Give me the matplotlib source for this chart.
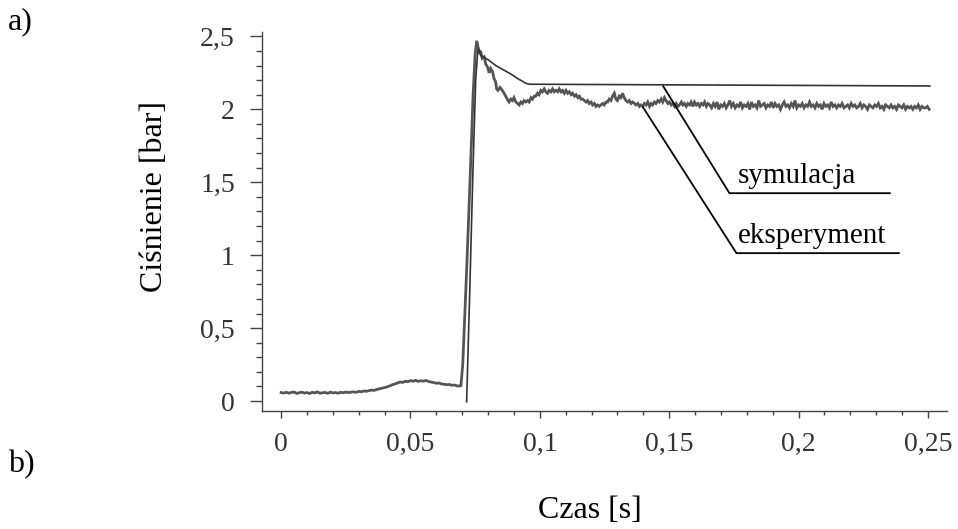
import numpy as np
import matplotlib
matplotlib.use("Agg")
import matplotlib.pyplot as plt
from matplotlib.ticker import MultipleLocator, FuncFormatter

plt.rcParams['font.family'] = ['Liberation Serif', 'DejaVu Serif']

# ---------------- data ----------------
# experiment: low (pre-shock) segment, sampled every 1 ms from 0 to 0.069 s
exp_low_t0 = 0.0
exp_low_dt = 0.001
exp_low_p = [
    0.058, 0.055, 0.060, 0.054, 0.059, 0.062, 0.053, 0.057, 0.061, 0.055,
    0.058, 0.052, 0.060, 0.056, 0.063, 0.054, 0.057, 0.059, 0.053, 0.061,
    0.056, 0.058, 0.054, 0.060, 0.057, 0.062, 0.058, 0.061, 0.063, 0.060,
    0.066, 0.064, 0.069, 0.067, 0.072, 0.075, 0.073, 0.080, 0.084, 0.088,
    0.093, 0.097, 0.104, 0.112, 0.118, 0.124, 0.131, 0.128, 0.136, 0.133,
    0.140, 0.136, 0.142, 0.135, 0.139, 0.137, 0.141, 0.134, 0.130, 0.127,
    0.122, 0.124, 0.117, 0.115, 0.112, 0.114, 0.108, 0.110, 0.104, 0.103,
]

# experiment: transient (read point by point)
exp_tr_t = [
    0.0695, 0.0702, 0.0716, 0.0730, 0.0742, 0.0750, 0.0756, 0.0762, 0.0767, 0.0771,
    0.0777, 0.0785, 0.0791, 0.0798, 0.0804, 0.0810, 0.0817, 0.0823, 0.0829, 0.0833,
    0.0838, 0.0846, 0.0855, 0.0862, 0.0868, 0.0874, 0.0881, 0.0888, 0.0894, 0.0900,
    0.0907, 0.0914, 0.0920, 0.0927, 0.0933, 0.0939, 0.0946, 0.0953, 0.0959, 0.0966,
    0.0972, 0.0978, 0.0984, 0.0991, 0.0997, 0.1004, 0.1010, 0.1017, 0.1023, 0.1030,
    0.1036, 0.1043, 0.1049, 0.1056, 0.1062, 0.1069, 0.1075, 0.1082, 0.1088, 0.1095,
    0.1101, 0.1108, 0.1114, 0.1121, 0.1127, 0.1134, 0.1140, 0.1147, 0.1153, 0.1159,
    0.1166, 0.1172, 0.1179, 0.1185, 0.1191, 0.1198, 0.1204, 0.1211, 0.1217, 0.1223,
    0.1230, 0.1236, 0.1243, 0.1249, 0.1256, 0.1262, 0.1268, 0.1275, 0.1281, 0.1288,
    0.1294, 0.1300, 0.1307, 0.1313, 0.1320, 0.1326, 0.1333, 0.1340, 0.1346, 0.1353,
    0.1359, 0.1366, 0.1372, 0.1379, 0.1385, 0.1391, 0.1398, 0.1404, 0.1411, 0.1417,
    0.1424, 0.1430, 0.1436, 0.1443, 0.1449, 0.1456, 0.1462, 0.1469, 0.1475, 0.1482,
    0.1488, 0.1495, 0.1501, 0.1508, 0.1514, 0.1521, 0.1527, 0.1534, 0.1540, 0.1547,
    0.1553, 0.1559, 0.1566, 0.1572, 0.1579, 0.1585, 0.1592, 0.1598, 0.1605, 0.1611,
    0.1618, 0.1624, 0.1631, 0.1637, 0.1644, 0.1650,
]
exp_tr_p = [
    0.106, 0.25, 0.85, 1.50, 2.10, 2.38, 2.47, 2.42, 2.38, 2.40,
    2.35, 2.36, 2.31, 2.29, 2.25, 2.28, 2.26, 2.21, 2.19, 2.14,
    2.13, 2.15, 2.13, 2.11, 2.09, 2.07, 2.05, 2.07, 2.06, 2.08,
    2.05, 2.04, 2.03, 2.05, 2.04, 2.06, 2.05, 2.06, 2.05, 2.08,
    2.07, 2.09, 2.09, 2.11, 2.10, 2.13, 2.12, 2.14, 2.12, 2.11,
    2.13, 2.12, 2.14, 2.12, 2.13, 2.12, 2.14, 2.12, 2.13, 2.11,
    2.13, 2.11, 2.12, 2.10, 2.11, 2.09, 2.10, 2.08, 2.09, 2.07,
    2.07, 2.06, 2.05, 2.06, 2.04, 2.05, 2.03, 2.04, 2.02, 2.03,
    2.02, 2.03, 2.04, 2.03, 2.05, 2.05, 2.07, 2.06, 2.09, 2.11,
    2.07, 2.06, 2.09, 2.08, 2.11, 2.08, 2.06, 2.05, 2.06, 2.04,
    2.05, 2.04, 2.03, 2.04, 2.02, 2.03, 2.02, 2.04, 2.03, 2.05,
    2.02, 2.04, 2.03, 2.05, 2.04, 2.06, 2.05, 2.07, 2.05, 2.08,
    2.06, 2.04, 2.05, 2.03, 2.04, 2.02, 2.04, 2.02, 2.03, 2.05,
    2.03, 2.04, 2.02, 2.04, 2.03, 2.05, 2.02, 2.05, 2.03, 2.04,
    2.02, 2.04, 2.03, 2.05, 2.02, 2.04,
]

# experiment: steady noisy tail, sampled uniformly from 0.1657 s to 0.2505 s
exp_tail_start = 0.1657
exp_tail_end = 0.2505
exp_tail_p = [
    2.03, 2.01, 2.04, 2.02, 2.05, 2.00, 2.03, 2.02, 2.04, 2.01,
    2.03, 2.06, 2.02, 2.04, 2.01, 2.03, 2.02, 2.05, 2.01, 2.03,
    2.02, 2.04, 2.00, 2.05, 2.02, 2.03, 2.01, 2.06, 2.02, 2.03,
    2.04, 2.01, 2.03, 2.02, 2.05, 2.01, 2.04, 2.02, 2.03, 2.00,
    2.03, 2.05, 2.02, 2.03, 2.01, 2.04, 2.02, 2.06, 2.01, 2.03,
    2.02, 2.04, 2.01, 2.03, 2.02, 2.05, 2.02, 2.03, 2.01, 2.04,
    2.02, 2.03, 2.00, 2.04, 2.02, 2.03, 2.01, 2.05, 2.02, 2.03,
    2.01, 2.03, 2.02, 2.04, 2.01, 2.02, 2.03, 2.01, 2.04, 2.02,
    2.03, 2.01, 2.02, 2.04, 2.01, 2.03, 2.02, 2.00, 2.03, 2.02,
    2.01, 2.03, 2.02, 2.04, 2.01, 2.02, 2.00, 2.03, 2.02, 2.01,
    2.03, 2.01, 2.02, 2.00, 2.03, 2.02, 2.01, 2.03, 2.00, 2.02,
    2.01, 2.02, 2.00, 2.02, 2.01, 2.03, 2.00, 2.02, 2.01, 2.01,
    2.02, 2.00,
]

# simulation
sim_t = [0.0717, 0.0729, 0.0741, 0.0752, 0.0760, 0.0766, 0.0771, 0.0800, 0.0830,
         0.0860, 0.0890, 0.0915, 0.0935, 0.0946, 0.0960, 0.2508]
sim_p = [-0.005, 0.75, 1.55, 2.20, 2.40, 2.41, 2.37, 2.34, 2.30,
         2.27, 2.24, 2.21, 2.19, 2.178, 2.172, 2.160]

x_ticks = [0, 0.05, 0.1, 0.15, 0.2, 0.25]
y_ticks = [0, 0.5, 1, 1.5, 2, 2.5]

label_sym = "symulacja"
label_exp = "eksperyment"

# ---------------- assemble ----------------
exp_low_t = exp_low_t0 + exp_low_dt * np.arange(len(exp_low_p))
exp_tail_t = np.linspace(exp_tail_start, exp_tail_end, len(exp_tail_p))
exp_t = np.concatenate([exp_low_t, exp_tr_t, exp_tail_t])
exp_p = np.concatenate([exp_low_p, exp_tr_p, exp_tail_p])

# ---------------- figure ----------------
fig = plt.figure(figsize=(9.58, 5.29), dpi=100)
ax = fig.add_axes([0.2735, 0.2231, 0.715, 0.7164])

ax.plot(exp_t, exp_p, color='#555555', lw=2.0, solid_joinstyle='miter')
ax.plot(sim_t, sim_p, color='#333333', lw=1.2)

ax.set_xlim(-0.0074, 0.2574)
ax.set_ylim(-0.068, 2.53)

for s in ['top', 'right']:
    ax.spines[s].set_visible(False)
for s in ['left', 'bottom']:
    ax.spines[s].set_color('#444444')
    ax.spines[s].set_linewidth(1.0)

ax.set_xticks(x_ticks)
ax.set_yticks(y_ticks)
ax.xaxis.set_minor_locator(MultipleLocator(0.01))
ax.yaxis.set_minor_locator(MultipleLocator(0.1))

def comma_fmt(v, pos):
    s = ('%g' % round(v, 4)).replace('.', ',')
    return s

ax.xaxis.set_major_formatter(FuncFormatter(comma_fmt))
ax.yaxis.set_major_formatter(FuncFormatter(comma_fmt))

ax.tick_params(axis='y', which='major', direction='out', length=8.5, width=1.0,
               color='#444444', labelsize=20, labelcolor='#333333', pad=11)
ax.tick_params(axis='y', which='minor', direction='out', length=4.3, width=1.0,
               color='#444444')
ax.tick_params(axis='x', which='major', direction='out', length=5, width=1.0,
               color='#444444', labelsize=20, labelcolor='#333333', pad=10)
ax.tick_params(axis='x', which='minor', direction='out', length=3, width=1.0,
               color='#444444')

# annotations (leader lines + underlined labels)
ax.plot([0.1477, 0.1733, 0.2353], [2.158, 1.425, 1.425], color='black', lw=1.3,
        clip_on=False)
ax.plot([0.1399, 0.1760, 0.2388], [2.014, 1.014, 1.014], color='black', lw=1.3,
        clip_on=False)
ax.text(0.1767, 1.455, label_sym, fontsize=21, color='black', ha='left', va='bottom')
ax.text(0.1767, 1.044, label_exp, fontsize=21, color='black', ha='left', va='bottom')

# axis titles and panel labels
fig.text(155 / 958, 1 - 197 / 529, "Ciśnienie [bar]", rotation=90, fontsize=23,
         ha='center', va='center')
fig.text(590 / 958, 1 - 510 / 529, "Czas [s]", fontsize=23, ha='center', va='center')
fig.text(8 / 958, 1 - 22 / 529, "a)", fontsize=23, ha='left', va='center')
fig.text(8 / 958, 1 - 465 / 529, "b)", fontsize=23, ha='left', va='center')

fig.savefig("out.png", dpi=100)
